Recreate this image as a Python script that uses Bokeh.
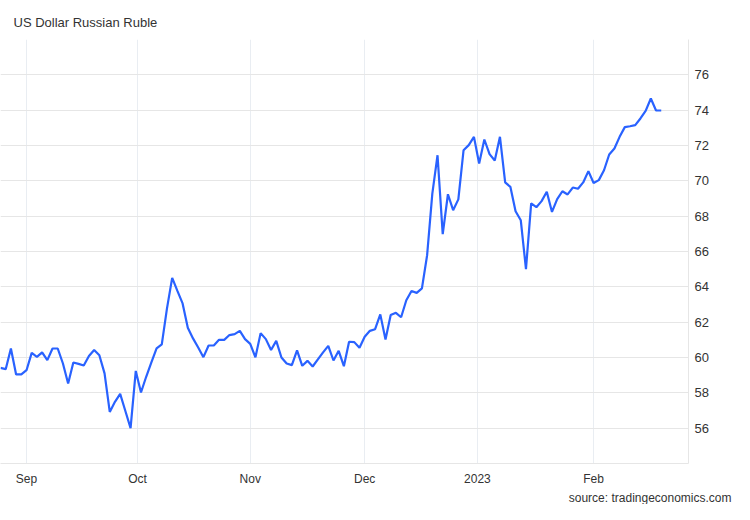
import numpy as np
import pandas as pd
from bokeh.plotting import figure
from bokeh.models import FixedTicker, Title, Range1d
from bokeh.embed import file_html
from bokeh.resources import INLINE

# ---- data ----
first_day = "2022-08-25"
last_day = "2023-02-20"
usdrub = [
    59.41, 59.34, 60.51, 59.04, 59.04, 59.28, 60.26, 60.04, 60.29, 59.85,
    60.51, 60.51, 59.66, 58.53, 59.72, 59.64, 59.55, 60.08, 60.42, 60.13,
    59.10, 56.92, 57.49, 57.94, 56.97, 56.00, 59.24, 58.02, 58.91, 59.72,
    60.51, 60.74, 62.78, 64.51, 63.77, 63.06, 61.68, 61.08, 60.57, 60.02,
    60.68, 60.68, 61.00, 61.00, 61.27, 61.32, 61.51, 61.04, 60.77, 60.01,
    61.38, 61.04, 60.42, 60.94, 60.00, 59.66, 59.57, 60.40, 59.53, 59.81,
    59.49, 59.89, 60.29, 60.66, 59.83, 60.38, 59.51, 60.89, 60.87, 60.55,
    61.17, 61.51, 61.60, 62.44, 61.02, 62.40, 62.53, 62.28, 63.24, 63.76,
    63.66, 63.91, 65.79, 69.28, 71.45, 66.98, 69.24, 68.34, 68.95, 71.73,
    72.02, 72.49, 70.98, 72.34, 71.51, 71.15, 72.49, 69.91, 69.66, 68.28,
    67.77, 65.00, 68.72, 68.51, 68.85, 69.38, 68.24, 68.96, 69.41, 69.23,
    69.62, 69.55, 69.91, 70.55, 69.88, 70.04, 70.60, 71.49, 71.83, 72.49,
    73.04, 73.09, 73.15, 73.53, 73.96, 74.66, 73.98, 73.98,
]
month_starts = ["2022-09-01", "2022-10-01", "2022-11-01", "2022-12-01", "2023-01-01", "2023-02-01"]
month_labels = ["Sep", "Oct", "Nov", "Dec", "2023", "Feb"]
y_ticks = [56, 58, 60, 62, 64, 66, 68, 70, 72, 74, 76, 78]

# ---- ordinal (trading-day) x axis ----
dates = pd.bdate_range(first_day, last_day)[: len(usdrub)]
idx = np.arange(len(usdrub))
ts = dates.asi8.astype(float)
month_pos = [round(float(np.interp(pd.Timestamp(m).value, ts, idx)), 4) for m in month_starts]

p = figure(width=734, height=504, output_backend="svg", toolbar_location=None,
           y_axis_location="right",
           x_range=Range1d(0, 132.24), y_range=Range1d(54, 78),
           min_border_left=0, min_border_right=46, min_border_top=39,
           min_border_bottom=41)
p.outline_line_color = None
p.background_fill_color = "white"
p.border_fill_color = "white"

p.line(idx, usdrub, line_color="#2962ff", line_width=2.2)

# title
p.title.text = "US Dollar Russian Ruble"
p.title.text_font = "Liberation Sans"
p.title.text_font_size = "13px"
p.title.text_font_style = "normal"
p.title.text_color = "#333333"
p.title.align = "left"
p.title.offset = 13
p.title.standoff = 20

p.add_layout(Title(text="source: tradingeconomics.com", align="right",
                   text_font="Liberation Sans", text_font_size="12px",
                   text_font_style="normal", text_color="#333333",
                   standoff=0, offset=-43), "below")

# x axis
xt = FixedTicker(ticks=month_pos)
p.xaxis.ticker = xt
p.xgrid.ticker = xt
p.xaxis.major_label_overrides = {pos: lab for pos, lab in zip(month_pos, month_labels)}
p.xaxis.axis_line_color = "#e6e6e6"
p.xaxis.major_tick_line_color = None
p.xaxis.minor_tick_line_color = None
p.xaxis.major_tick_out = 0
p.xaxis.major_label_standoff = 8
p.xaxis.major_label_text_font = "Liberation Sans"
p.xaxis.major_label_text_font_size = "12px"
p.xaxis.major_label_text_color = "#333333"
p.xgrid.grid_line_color = "#e9edf2"

# y axis
yt = FixedTicker(ticks=y_ticks)
p.yaxis.ticker = yt
p.ygrid.ticker = yt
p.yaxis.major_label_overrides = {78: ""}
p.yaxis.axis_line_color = "#e6e6e6"
p.yaxis.major_tick_line_color = None
p.yaxis.minor_tick_line_color = None
p.yaxis.major_tick_out = 0
p.yaxis.major_label_standoff = 6
p.yaxis.major_label_text_font = "Liberation Sans"
p.yaxis.major_label_text_font_size = "13px"
p.yaxis.major_label_text_color = "#333333"
p.ygrid.grid_line_color = "#e6e6e6"

open("out.html", "w").write(file_html(p, INLINE))
